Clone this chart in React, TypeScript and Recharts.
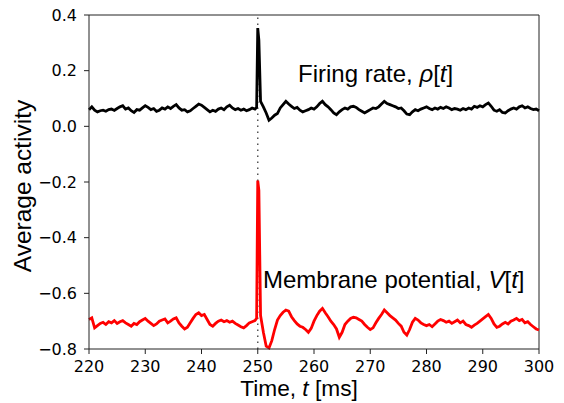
import { LineChart, Line, XAxis, YAxis, ReferenceLine } from 'recharts';

// sampled every 0.5 ms starting at t = 220 ms
const firingRate = [
  0.060, 0.070, 0.058, 0.052, 0.056, 0.058, 0.054, 0.060, 0.062, 0.057,
  0.064, 0.070, 0.074, 0.062, 0.066, 0.056, 0.050, 0.060, 0.058, 0.066,
  0.074, 0.068, 0.060, 0.064, 0.054, 0.058, 0.066, 0.062, 0.070, 0.064,
  0.072, 0.078, 0.066, 0.058, 0.060, 0.052, 0.056, 0.064, 0.072, 0.080,
  0.076, 0.068, 0.060, 0.052, 0.058, 0.054, 0.062, 0.066, 0.060, 0.070,
  0.076, 0.066, 0.060, 0.064, 0.058, 0.062, 0.056, 0.060, 0.066, 0.062,
  0.353, 0.090, 0.070, 0.048, 0.022, 0.030, 0.040, 0.046, 0.066, 0.078,
  0.090, 0.080, 0.072, 0.064, 0.068, 0.058, 0.052, 0.056, 0.060, 0.066,
  0.062, 0.070, 0.082, 0.090, 0.078, 0.070, 0.060, 0.048, 0.042, 0.052,
  0.060, 0.066, 0.062, 0.070, 0.072, 0.068, 0.060, 0.054, 0.048, 0.054,
  0.060, 0.066, 0.064, 0.070, 0.080, 0.090, 0.082, 0.078, 0.074, 0.070,
  0.064, 0.066, 0.056, 0.044, 0.042, 0.052, 0.060, 0.056, 0.062, 0.066,
  0.070, 0.064, 0.060, 0.066, 0.062, 0.068, 0.064, 0.070, 0.066, 0.060,
  0.064, 0.062, 0.058, 0.064, 0.060, 0.066, 0.062, 0.072, 0.068, 0.074,
  0.070, 0.078, 0.084, 0.072, 0.058, 0.054, 0.060, 0.050, 0.048, 0.056,
  0.062, 0.066, 0.062, 0.070, 0.074, 0.066, 0.070, 0.064, 0.060, 0.062,
  0.056,
];

const membranePotential = [
  -0.694, -0.688, -0.724, -0.716, -0.708, -0.704, -0.712, -0.702, -0.706, -0.698,
  -0.708, -0.702, -0.698, -0.706, -0.712, -0.718, -0.708, -0.712, -0.702, -0.696,
  -0.690, -0.700, -0.708, -0.716, -0.710, -0.700, -0.696, -0.692, -0.706, -0.700,
  -0.692, -0.688, -0.706, -0.718, -0.728, -0.722, -0.706, -0.690, -0.676, -0.670,
  -0.680, -0.676, -0.694, -0.712, -0.718, -0.708, -0.700, -0.696, -0.702, -0.698,
  -0.704, -0.700, -0.708, -0.714, -0.720, -0.724, -0.716, -0.706, -0.702, -0.698,
  -0.195, -0.680, -0.740, -0.790, -0.796, -0.770, -0.730, -0.696, -0.680, -0.668,
  -0.660, -0.664, -0.684, -0.698, -0.710, -0.718, -0.722, -0.730, -0.740, -0.726,
  -0.700, -0.680, -0.664, -0.654, -0.670, -0.684, -0.700, -0.712, -0.728, -0.758,
  -0.740, -0.712, -0.700, -0.690, -0.686, -0.688, -0.694, -0.700, -0.712, -0.722,
  -0.730, -0.724, -0.706, -0.690, -0.676, -0.660, -0.670, -0.680, -0.688, -0.696,
  -0.708, -0.718, -0.740, -0.750, -0.730, -0.704, -0.690, -0.696, -0.706, -0.712,
  -0.716, -0.712, -0.720, -0.710, -0.700, -0.694, -0.698, -0.704, -0.700, -0.708,
  -0.702, -0.696, -0.706, -0.700, -0.712, -0.716, -0.722, -0.714, -0.708, -0.700,
  -0.692, -0.684, -0.676, -0.690, -0.710, -0.722, -0.718, -0.710, -0.704, -0.710,
  -0.700, -0.696, -0.690, -0.698, -0.694, -0.706, -0.702, -0.712, -0.720, -0.728,
  -0.732,
];

// extra samples around the stimulus, the spike is narrower than the 0.5 ms grid
const spikeTimes = [249.8, 250.2];
const spikeRate = [0.068, 0.31];
const spikePotential = [-0.69, -0.23];

const xTicks = [220, 230, 240, 250, 260, 270, 280, 290, 300];
const yTicks = [-0.8, -0.6, -0.4, -0.2, 0.0, 0.2, 0.4];
const stimulusTime = 250;

const data = [
  ...firingRate.map((rho, i) => ({ t: 220 + i * 0.5, rho, v: membranePotential[i] })),
  ...spikeTimes.map((t, i) => ({ t, rho: spikeRate[i], v: spikePotential[i] })),
].sort((a, b) => a.t - b.t);

const tickFont = { fontFamily: 'DejaVu Sans', fontSize: 16, fill: '#000' };
const labelFont = 'Liberation Sans, Arial, sans-serif';
const fmtY = (v: number) => v.toFixed(1).replace('-', '\u2212');

export default function App() {
  return (
    <div style={{ position: 'absolute', left: 0, top: 0, width: 564, height: 403, background: '#fff' }}>
      <LineChart width={564} height={403} data={data} margin={{ top: 15, right: 25, left: 0, bottom: 0 }}>
        <XAxis
          dataKey="t"
          type="number"
          domain={[220, 300]}
          ticks={xTicks}
          tick={tickFont}
          tickSize={5}
          tickMargin={7}
          height={54}
          stroke="#222"
          tickLine={{ stroke: '#222' }}
        />
        <YAxis
          type="number"
          domain={[-0.8, 0.4]}
          ticks={yTicks}
          tickFormatter={fmtY}
          tick={tickFont}
          tickSize={5}
          tickMargin={7}
          width={89}
          stroke="#222"
          tickLine={{ stroke: '#222' }}
        />
        <ReferenceLine y={0.4} stroke="#222" />
        <ReferenceLine x={300} stroke="#222" />
        <ReferenceLine x={stimulusTime} stroke="#555" strokeWidth={1.5} strokeDasharray="1.5 4.5" />
        <Line type="linear" dataKey="rho" stroke="#000" strokeWidth={2.8} dot={false} isAnimationActive={false} />
        <Line type="linear" dataKey="v" stroke="#ff0000" strokeWidth={2.8} dot={false} isAnimationActive={false} />
      </LineChart>
      <svg width={564} height={403} style={{ position: 'absolute', left: 0, top: 0, pointerEvents: 'none' }}>
        <text x={298} y={82} fontFamily={labelFont} fontSize={24} fill="#000">
          Firing rate, <tspan fontStyle="italic">ρ</tspan>[<tspan fontStyle="italic">t</tspan>]
        </text>
        <text x={263} y={288} fontFamily={labelFont} fontSize={24} fill="#000">
          Membrane potential, <tspan fontStyle="italic">V</tspan>[<tspan fontStyle="italic">t</tspan>]
        </text>
        <text x={299} y={396} textAnchor="middle" fontFamily={labelFont} fontSize={22.7} fill="#000">
          Time, <tspan fontStyle="italic">t</tspan> [ms]
        </text>
        <text
          x={0}
          y={0}
          transform="translate(31 186) rotate(-90)"
          textAnchor="middle"
          fontFamily={labelFont}
          fontSize={24.5}
          fill="#000"
        >
          Average activity
        </text>
      </svg>
    </div>
  );
}
